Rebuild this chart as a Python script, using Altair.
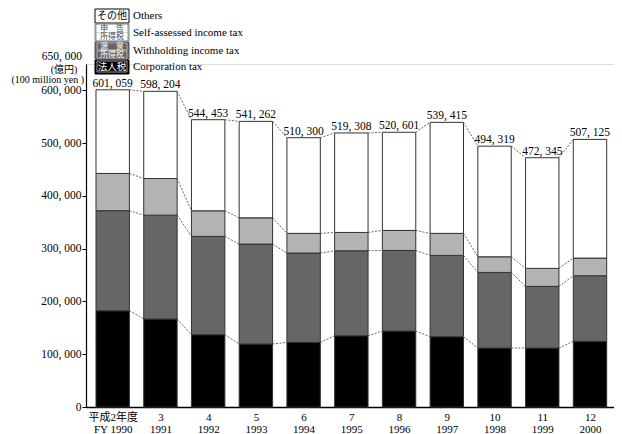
import json
import altair as alt
import pandas as pd

# ---- data (100 million yen) ----
years_jp = ["平成2年度", "3", "4", "5", "6", "7", "8", "9", "10", "11", "12"]
years_en = ["FY 1990", "1991", "1992", "1993", "1994", "1995", "1996", "1997", "1998", "1999", "2000"]
totals = [601059, 598204, 544453, 541262, 510300, 519308, 520601, 539415, 494319, 472345, 507125]
corporation = [182400, 166700, 137000, 119300, 122500, 135000, 143900, 133200, 111700, 111700, 124400]
withholding = [189600, 196900, 186300, 189400, 169200, 161000, 152800, 154100, 143300, 116900, 124300]
self_assessed = [70600, 69400, 48500, 49800, 37300, 34800, 37900, 41700, 29700, 34100, 33500]
others = [158500, 165200, 172700, 182800, 181300, 188500, 186000, 210400, 209600, 209600, 224900]

categories = ["Corporation tax", "Withholding income tax", "Self-assessed income tax", "Others"]
cat_colors = ["#000000", "#666666", "#b3b3b3", "#ffffff"]
y_ticks = [0, 100000, 200000, 300000, 400000, 500000, 600000]

SERIF = "'Liberation Serif', 'Noto Sans CJK JP', serif"
HALF = 0.35

rows, levels_all = [], []
for i in range(len(years_en)):
    base = 0
    levels = []
    for cat, vals in zip(categories, [corporation, withholding, self_assessed, others]):
        v = vals[i]
        rows.append(dict(idx=i, cat=cat, x0=i - HALF, x1=i + HALF, y0=base, y1=base + v))
        base += v
        levels.append(base)
    levels[-1] = totals[i]
    rows[-1]["y1"] = totals[i]
    levels_all.append(levels)
bars_df = pd.DataFrame(rows)

conn = []
for i in range(len(years_en) - 1):
    for k in range(4):
        conn.append(dict(xa=i + HALF, xb=i + 1 - HALF, ya=levels_all[i][k], yb=levels_all[i + 1][k]))
conn_df = pd.DataFrame(conn)

tot_df = pd.DataFrame(dict(idx=list(range(len(totals))), total=totals,
                           lab=[f"{t:,}".replace(",", ", ") for t in totals]))

xs = alt.Scale(domain=[-0.5594, 10.503], nice=False, zero=False)
ys = alt.Scale(domain=[0, 650000], nice=False, zero=True)

x_label_expr = "[{}[datum.value], {}[datum.value]]".format(
    json.dumps(years_jp, ensure_ascii=False), json.dumps(years_en, ensure_ascii=False))

bars = alt.Chart(bars_df).mark_rect(stroke="#333333", strokeWidth=1).encode(
    x=alt.X("x0:Q", scale=xs, axis=alt.Axis(
        values=list(range(len(years_en))), labelExpr=x_label_expr, ticks=False, title=None,
        grid=False, domainColor="#000000", domainWidth=1.5, labelFont=SERIF, labelFontSize=11,
        labelColor="#000000", labelPadding=4, labelLineHeight=12, labelFlush=False,
        labelOverlap=False)),
    x2="x1:Q",
    y=alt.Y("y0:Q", scale=ys, axis=alt.Axis(
        values=y_ticks, labelExpr="replace(format(datum.value, ','), ',', ', ')",
        tickSize=4, tickColor="#000000", title=None, grid=False, domainColor="#000000",
        domainWidth=1.2, labelFont=SERIF, labelFontSize=11.5, labelColor="#000000",
        labelPadding=1, labelFlush=False)),
    y2="y1:Q",
    fill=alt.Fill("cat:N", scale=alt.Scale(domain=categories, range=cat_colors), legend=None),
)

connectors = alt.Chart(conn_df).mark_rule(color="#555555", strokeDash=[2, 1.5], strokeWidth=0.9).encode(
    x=alt.X("xa:Q", scale=xs), x2="xb:Q",
    y=alt.Y("ya:Q", scale=ys), y2="yb:Q",
)

tot_text = alt.Chart(tot_df).mark_text(baseline="bottom", dy=-1, font=SERIF, fontSize=11.5,
                                       color="#000000").encode(
    x=alt.X("idx:Q", scale=xs), y=alt.Y("total:Q", scale=ys), text="lab:N")

# ---- legend (pixel layout) ----
leg_boxes = pd.DataFrame([
    dict(x0=9, x1=43, y0=-55, y1=-41, fill="#ffffff", stroke="#000000"),
    dict(x0=9, x1=43, y0=-40, y1=-23, fill="#b3b3b3", stroke="#888888"),
    dict(x0=9, x1=43, y0=-22, y1=-5, fill="#666666", stroke="#555555"),
    dict(x0=9, x1=43, y0=-4, y1=10, fill="#000000", stroke="#000000"),
])
leg_inner = pd.DataFrame([
    dict(x0=11, x1=41, y0=-39, y1=-32, fill="#ffffff", stroke="#ffffff"),
    dict(x0=11, x1=41, y0=-31, y1=-24, fill="#ffffff", stroke="#ffffff"),
    dict(x0=11, x1=41, y0=-21, y1=-14, fill="#666666", stroke="#dddddd"),
    dict(x0=11, x1=41, y0=-13, y1=-6, fill="#666666", stroke="#dddddd"),
    dict(x0=11, x1=41, y0=-3, y1=8, fill="#000000", stroke="#ffffff"),
])
leg_jp = pd.DataFrame([
    dict(x=26, y=-48, t="その他", c="#000000", s=10),
    dict(x=26, y=-35.5, t="申　告", c="#444444", s=7.8),
    dict(x=26, y=-27.5, t="所得税", c="#444444", s=7.8),
    dict(x=26, y=-17.5, t="源　泉", c="#ffffff", s=7.8),
    dict(x=26, y=-9.5, t="所得税", c="#ffffff", s=7.8),
    dict(x=26, y=2.5, t="法人税", c="#ffffff", s=9.5),
])
leg_en = pd.DataFrame([
    dict(x=47, y=-48, t="Others"),
    dict(x=47, y=-31.5, t="Self-assessed income tax"),
    dict(x=47, y=-13.5, t="Withholding income tax"),
    dict(x=47, y=3, t="Corporation tax"),
])

def px(field):
    return alt.X(field, scale=None)

def py(field):
    return alt.Y(field, scale=None)

lb = alt.Chart(leg_boxes).mark_rect(strokeWidth=1).encode(
    x=px("x0:Q"), x2="x1:Q", y=py("y0:Q"), y2="y1:Q",
    fill=alt.Fill("fill:N", scale=None), stroke=alt.Stroke("stroke:N", scale=None))
li = alt.Chart(leg_inner).mark_rect(strokeWidth=0.6).encode(
    x=px("x0:Q"), x2="x1:Q", y=py("y0:Q"), y2="y1:Q",
    fill=alt.Fill("fill:N", scale=None), stroke=alt.Stroke("stroke:N", scale=None))
lj = alt.Chart(leg_jp).mark_text(font="Noto Sans CJK JP", baseline="middle", align="center").encode(
    x=px("x:Q"), y=py("y:Q"), text="t:N",
    color=alt.Color("c:N", scale=None), size=alt.Size("s:Q", scale=None))
le = alt.Chart(leg_en).mark_text(font=SERIF, fontSize=11, baseline="middle", align="left",
                                 color="#000000").encode(
    x=px("x:Q"), y=py("y:Q"), text="t:N")

unit_right = pd.DataFrame([
    dict(x=-4, y=-7, t="650, 000", s=11.5),
    dict(x=-2, y=15.5, t="(100 million yen )", s=10),
])
unit_center = pd.DataFrame([dict(x=-22, y=6, t="(億円)", s=10)])
units_r = alt.Chart(unit_right).mark_text(font=SERIF, baseline="middle", align="right",
                                          color="#000000").encode(
    x=px("x:Q"), y=py("y:Q"), text="t:N", size=alt.Size("s:Q", scale=None))
units_c = alt.Chart(unit_center).mark_text(font=SERIF, baseline="middle", align="center",
                                           color="#000000").encode(
    x=px("x:Q"), y=py("y:Q"), text="t:N", size=alt.Size("s:Q", scale=None))

chart = alt.layer(bars, connectors, tot_text, lb, li, lj, le, units_r, units_c).properties(
    width=528, height=343,
    autosize=alt.AutoSizeParams(type="none"),
    padding={"left": 78, "top": 56, "right": 0, "bottom": 26},
).configure_view(stroke=None).configure(background="#ffffff")

chart.save("out.html", embed_options={"renderer": "svg", "actions": False})
